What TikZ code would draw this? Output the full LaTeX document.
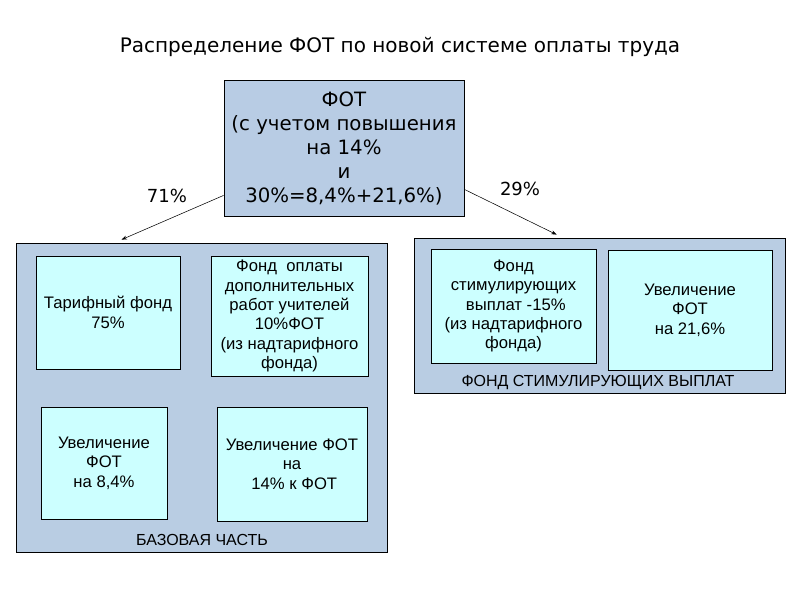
\documentclass[tikz,border=0pt]{standalone}
\usepackage{fontspec}
\setmainfont{DejaVu Sans}
\newfontfamily\boxfont{Liberation Sans}
\usetikzlibrary{arrows.meta,positioning}
\definecolor{fotOuter}{HTML}{B9CDE3}
\definecolor{fotInner}{HTML}{CCFFFF}
\definecolor{fotTop}{HTML}{B8CCE4}
\tikzset{
  outerbox/.style={
    rectangle,
    draw=black,
    fill=fotOuter,
    line width=0.6pt
  },
  innerbox/.style={
    rectangle,
    draw=black,
    fill=fotInner,
    align=center,
    line width=0.6pt,
    font=\boxfont\fontsize{12.5}{14.5}\selectfont,
    inner sep=0pt
  },
  topbox/.style={
    rectangle,
    draw=black,
    fill=fotTop,
    align=center,
    line width=0.6pt,
    font=\fontsize{14.8}{18}\selectfont,
    inner sep=0pt
  },
  caption/.style={font=\boxfont\fontsize{12}{14}\selectfont, inner sep=0pt},
  pct/.style={font=\fontsize{13.5}{15}\selectfont, inner sep=0pt},
  arrow/.style={-{Stealth[length=4pt,width=3pt]}, line width=0.4pt, draw=black}
}

\begin{document}
\begin{tikzpicture}[x=0.75pt, y=-0.75pt]
  \useasboundingbox[fill=white] (0,0) rectangle (800,600);
  \node[font=\fontsize{15}{18}\selectfont] (title) at (400,47) {Распределение ФОТ по новой системе оплаты труда};
  \node[topbox, minimum width=180pt, minimum height=102pt] (fot) at (344,148) {ФОТ\\(с учетом повышения\\на 14\%\\и\\30\%=8,4\%+21,6\%)};
  % base part
  \node[outerbox, minimum width=278.25pt, minimum height=231.75pt] (base) at (201.5,397.5) {};
  \node[innerbox, minimum width=108pt, minimum height=84.75pt] (tarif) at (108,312.5) {Тарифный фонд\\75\%};
  \node[innerbox, minimum width=117.75pt, minimum height=90pt] (extra) at (289.5,316) {Фонд\ \ оплаты\\дополнительных\\работ учителей\\10\%ФОТ\\(из надтарифного\\фонда)};
  \node[innerbox, minimum width=94.5pt, minimum height=84pt] (rise84) at (104,463) {Увеличение\\ФОТ\\на 8,4\%};
  \node[innerbox, minimum width=112.5pt, minimum height=85.5pt] (rise14) at (292,464) {Увеличение ФОТ\\на\\\ 14\% к ФОТ};
  \node[caption] (baselbl) at (202,540) {БАЗОВАЯ ЧАСТЬ};
  % incentive part
  \node[outerbox, minimum width=278.25pt, minimum height=116.25pt] (stim) at (599.5,315.5) {};
  \node[innerbox, minimum width=123.75pt, minimum height=85.5pt] (stimfund) at (513.5,306) {Фонд\\стимулирующих\\\ выплат -15\%\\(из надтарифного\\фонда)};
  \node[innerbox, minimum width=123pt, minimum height=90pt] (rise216) at (690,310) {Увеличение\\ФОТ\\на 21,6\%};
  \node[caption] (stimlbl) at (598,383) {ФОНД СТИМУЛИРУЮЩИХ ВЫПЛАТ};
  % split
  \draw[arrow] ([yshift=15.75pt]fot.south west) -- ([xshift=79.5pt,yshift=2.25pt]base.north west);
  \draw[arrow] ([yshift=20.25pt]fot.south east) -- ([xshift=107.25pt,yshift=2.25pt]stim.north west);
  \node[pct] (left) at (167,196) {71\%};
  \node[pct] (right) at (520,189) {29\%};
\end{tikzpicture}
\end{document}
